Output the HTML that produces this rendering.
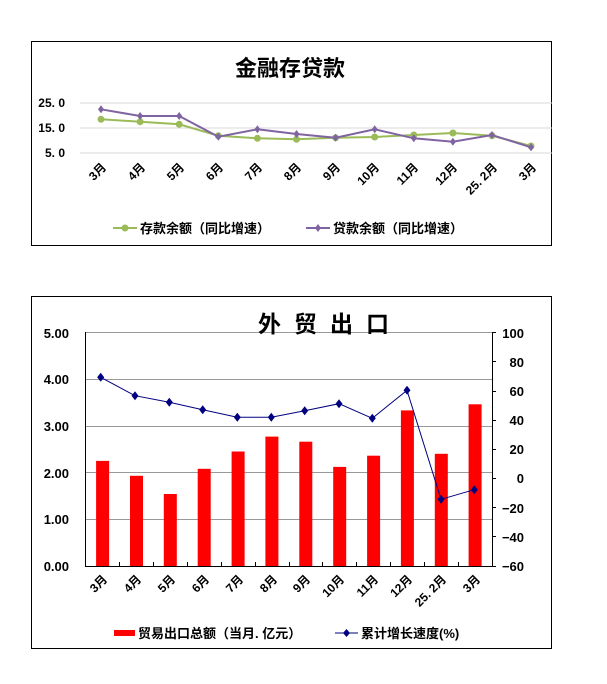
<!DOCTYPE html>
<html><head><meta charset="utf-8"><style>
body{margin:0;background:#fff;}
svg{display:block;font-family:"Liberation Sans","Noto Sans CJK SC",sans-serif;}
</style></head><body>
<svg width="607" height="684" viewBox="0 0 607 684" xmlns="http://www.w3.org/2000/svg">
<rect width="607" height="684" fill="#fff"/>
<!-- Top chart -->
<rect x="31.5" y="41.5" width="520" height="204" fill="#fff" stroke="#000" stroke-width="1"/>
<text x="290" y="76" font-size="22" font-weight="bold" text-anchor="middle">金融存贷款</text>
<g stroke="#d9d9d9" stroke-width="1">
<line x1="80" y1="103" x2="552" y2="103"/><line x1="80" y1="128" x2="552" y2="128"/><line x1="80" y1="153" x2="552" y2="153"/>
</g>
<g font-size="12" font-weight="bold" text-anchor="end">
<text x="65" y="107">25. 0</text><text x="65" y="132">15. 0</text><text x="65" y="157">5. 0</text>
</g>
<polyline fill="none" stroke="#9bbb59" stroke-width="2" points="101,119.3 140.1,121.7 179.2,124.3 218.3,135.7 257.4,138.3 296.5,139.3 335.6,137.7 374.7,137 413.8,135 452.9,133 492,135.7 531,146"/>
<g fill="#9bbb59">
<circle cx="101" cy="119.3" r="3.5"/><circle cx="140.1" cy="121.7" r="3.5"/><circle cx="179.2" cy="124.3" r="3.5"/><circle cx="218.3" cy="135.7" r="3.5"/><circle cx="257.4" cy="138.3" r="3.5"/><circle cx="296.5" cy="139.3" r="3.5"/><circle cx="335.6" cy="137.7" r="3.5"/><circle cx="374.7" cy="137" r="3.5"/><circle cx="413.8" cy="135" r="3.5"/><circle cx="452.9" cy="133" r="3.5"/><circle cx="492" cy="135.7" r="3.5"/><circle cx="531" cy="146" r="3.5"/>
</g>
<polyline fill="none" stroke="#8064a2" stroke-width="2" points="101,109.3 140.1,116 179.2,116 218.3,136.7 257.4,129.3 296.5,134 335.6,137.7 374.7,129.3 413.8,138.3 452.9,141.7 492,135 531,147.3"/>
<g fill="#8064a2">
<path d="M101 105.3l3 4-3 4-3-4z"/><path d="M140.1 112l3 4-3 4-3-4z"/><path d="M179.2 112l3 4-3 4-3-4z"/><path d="M218.3 132.7l3 4-3 4-3-4z"/><path d="M257.4 125.3l3 4-3 4-3-4z"/><path d="M296.5 130l3 4-3 4-3-4z"/><path d="M335.6 133.7l3 4-3 4-3-4z"/><path d="M374.7 125.3l3 4-3 4-3-4z"/><path d="M413.8 134.3l3 4-3 4-3-4z"/><path d="M452.9 137.7l3 4-3 4-3-4z"/><path d="M492 131l3 4-3 4-3-4z"/><path d="M531 143.3l3 4-3 4-3-4z"/>
</g>
<g font-size="12" font-weight="bold" text-anchor="end">
<text transform="translate(107,168) rotate(-45)">3月</text>
<text transform="translate(146,168) rotate(-45)">4月</text>
<text transform="translate(185,168) rotate(-45)">5月</text>
<text transform="translate(224,168) rotate(-45)">6月</text>
<text transform="translate(263,168) rotate(-45)">7月</text>
<text transform="translate(302,168) rotate(-45)">8月</text>
<text transform="translate(341,168) rotate(-45)">9月</text>
<text transform="translate(380,168) rotate(-45)">10月</text>
<text transform="translate(419,168) rotate(-45)">11月</text>
<text transform="translate(458,168) rotate(-45)">12月</text>
<text transform="translate(498,168) rotate(-45)">25. 2月</text>
<text transform="translate(537,168) rotate(-45)">3月</text>
</g>
<line x1="113" y1="228" x2="137" y2="228" stroke="#9bbb59" stroke-width="2"/><circle cx="125" cy="228" r="3.5" fill="#9bbb59"/>
<text x="140" y="233" font-size="13" font-weight="bold">存款余额（同比增速）</text>
<line x1="306" y1="228" x2="330" y2="228" stroke="#8064a2" stroke-width="2"/><path d="M318 224l3 4-3 4-3-4z" fill="#8064a2"/>
<text x="333" y="233" font-size="13" font-weight="bold">贷款余额（同比增速）</text>

<!-- Bottom chart -->
<rect x="31.5" y="296.5" width="520" height="352" fill="#fff" stroke="#000" stroke-width="1"/>
<g stroke="#999" stroke-width="1">
<line x1="86" y1="332.5" x2="492" y2="332.5"/><line x1="86" y1="379.5" x2="492" y2="379.5"/><line x1="86" y1="426.5" x2="492" y2="426.5"/><line x1="86" y1="472.5" x2="492" y2="472.5"/><line x1="86" y1="519.5" x2="492" y2="519.5"/>
</g>
<text x="258" y="332" font-size="23" font-weight="bold" fill="#000" style="letter-spacing:13px">外贸出口</text>
<g fill="#ff0000">
<rect x="96.1" y="460.9" width="13" height="105.1"/><rect x="130" y="475.8" width="13" height="90.2"/><rect x="163.8" y="494" width="13" height="72"/><rect x="197.7" y="468.8" width="13" height="97.2"/><rect x="231.6" y="451.5" width="13" height="114.5"/><rect x="265.4" y="436.6" width="13" height="129.4"/><rect x="299.3" y="441.7" width="13" height="124.3"/><rect x="333.2" y="466.9" width="13" height="99.1"/><rect x="367.1" y="455.7" width="13" height="110.3"/><rect x="400.9" y="410.4" width="13" height="155.6"/><rect x="434.8" y="453.8" width="13" height="112.2"/><rect x="468.6" y="404.3" width="13" height="161.7"/>
</g>
<g stroke="#000" stroke-width="1">
<line x1="85.5" y1="332" x2="85.5" y2="566"/><line x1="492.5" y1="332" x2="492.5" y2="566"/><line x1="85" y1="566.5" x2="493" y2="566.5"/>
<line x1="119.5" y1="562" x2="119.5" y2="566"/><line x1="153.5" y1="562" x2="153.5" y2="566"/><line x1="187.5" y1="562" x2="187.5" y2="566"/><line x1="221.5" y1="562" x2="221.5" y2="566"/><line x1="255.5" y1="562" x2="255.5" y2="566"/><line x1="289.5" y1="562" x2="289.5" y2="566"/><line x1="322.5" y1="562" x2="322.5" y2="566"/><line x1="356.5" y1="562" x2="356.5" y2="566"/><line x1="390.5" y1="562" x2="390.5" y2="566"/><line x1="424.5" y1="562" x2="424.5" y2="566"/><line x1="458.5" y1="562" x2="458.5" y2="566"/>
<line x1="492" y1="332.5" x2="496" y2="332.5"/><line x1="492" y1="361.5" x2="496" y2="361.5"/><line x1="492" y1="391.5" x2="496" y2="391.5"/><line x1="492" y1="420.5" x2="496" y2="420.5"/><line x1="492" y1="449.5" x2="496" y2="449.5"/><line x1="492" y1="478.5" x2="496" y2="478.5"/><line x1="492" y1="507.5" x2="496" y2="507.5"/><line x1="492" y1="536.5" x2="496" y2="536.5"/><line x1="492" y1="566.5" x2="496" y2="566.5"/>
</g>
<g font-size="13" font-weight="bold" text-anchor="end">
<text x="69" y="338">5.00</text><text x="69" y="384">4.00</text><text x="69" y="431">3.00</text><text x="69" y="478">2.00</text><text x="69" y="524">1.00</text><text x="69" y="571">0.00</text>
</g>
<g font-size="13" font-weight="bold" text-anchor="end">
<text x="524" y="338">100</text><text x="524" y="367">80</text><text x="524" y="396">60</text><text x="524" y="425">40</text><text x="524" y="454">20</text><text x="524" y="483">0</text><text x="524" y="513">−20</text><text x="524" y="542">−40</text><text x="524" y="571">−60</text>
</g>
<polyline fill="none" stroke="#000080" stroke-width="1" points="100.7,377.3 135,395.7 169.3,402.3 202.7,409.7 237.3,417.3 271.3,417.3 304.7,410.7 339,403.7 372.3,418.3 407,390.3 441,499.3 474.3,489.7"/>
<g fill="#000080">
<path d="M100.7 372.8l3.5 4.5-3.5 4.5-3.5-4.5z"/><path d="M135 391.2l3.5 4.5-3.5 4.5-3.5-4.5z"/><path d="M169.3 397.8l3.5 4.5-3.5 4.5-3.5-4.5z"/><path d="M202.7 405.2l3.5 4.5-3.5 4.5-3.5-4.5z"/><path d="M237.3 412.8l3.5 4.5-3.5 4.5-3.5-4.5z"/><path d="M271.3 412.8l3.5 4.5-3.5 4.5-3.5-4.5z"/><path d="M304.7 406.2l3.5 4.5-3.5 4.5-3.5-4.5z"/><path d="M339 399.2l3.5 4.5-3.5 4.5-3.5-4.5z"/><path d="M372.3 413.8l3.5 4.5-3.5 4.5-3.5-4.5z"/><path d="M407 385.8l3.5 4.5-3.5 4.5-3.5-4.5z"/><path d="M441 494.8l3.5 4.5-3.5 4.5-3.5-4.5z"/><path d="M474.3 485.2l3.5 4.5-3.5 4.5-3.5-4.5z"/>
</g>
<g font-size="12" font-weight="bold" text-anchor="end">
<text transform="translate(108,580) rotate(-45)">3月</text>
<text transform="translate(142,580) rotate(-45)">4月</text>
<text transform="translate(176,580) rotate(-45)">5月</text>
<text transform="translate(210,580) rotate(-45)">6月</text>
<text transform="translate(244,580) rotate(-45)">7月</text>
<text transform="translate(278,580) rotate(-45)">8月</text>
<text transform="translate(311,580) rotate(-45)">9月</text>
<text transform="translate(345,580) rotate(-45)">10月</text>
<text transform="translate(379,580) rotate(-45)">11月</text>
<text transform="translate(413,580) rotate(-45)">12月</text>
<text transform="translate(447,580) rotate(-45)">25. 2月</text>
<text transform="translate(481,580) rotate(-45)">3月</text>
</g>
<rect x="114" y="630" width="21" height="6" fill="#ff0000"/>
<text x="138" y="638" font-size="13" font-weight="bold">贸易出口总额（当月. 亿元）</text>
<line x1="335" y1="633" x2="358" y2="633" stroke="#000080" stroke-width="1"/><path d="M346.5 629l3.5 4-3.5 4-3.5-4z" fill="#000080"/>
<text x="361" y="638" font-size="13" font-weight="bold">累计增长速度(%)</text>
</svg>
</body></html>
